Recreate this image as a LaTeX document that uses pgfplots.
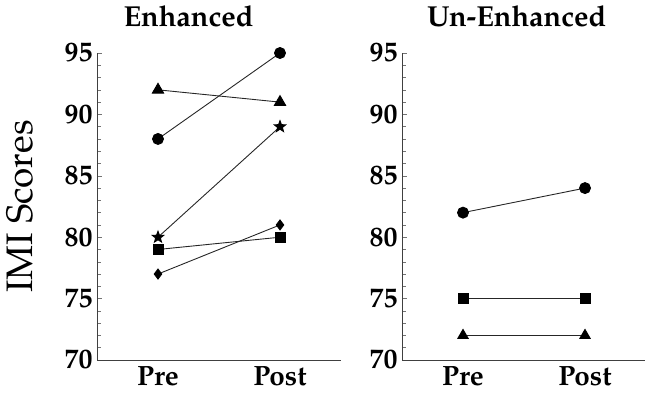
\documentclass[border=0pt]{standalone}
\usepackage{fontspec}
\setmainfont{TeX Gyre Pagella}
\usepackage{pgfplots}
\pgfplotsset{compat=1.18}
\pgfdeclareplotmark{fstar}{%
  \pgfpathmoveto{\pgfpointpolar{90}{\pgfplotmarksize}}%
  \pgfpathlineto{\pgfpointpolar{126}{0.42\pgfplotmarksize}}%
  \pgfpathlineto{\pgfpointpolar{162}{\pgfplotmarksize}}%
  \pgfpathlineto{\pgfpointpolar{198}{0.42\pgfplotmarksize}}%
  \pgfpathlineto{\pgfpointpolar{234}{\pgfplotmarksize}}%
  \pgfpathlineto{\pgfpointpolar{270}{0.42\pgfplotmarksize}}%
  \pgfpathlineto{\pgfpointpolar{306}{\pgfplotmarksize}}%
  \pgfpathlineto{\pgfpointpolar{342}{0.42\pgfplotmarksize}}%
  \pgfpathlineto{\pgfpointpolar{18}{\pgfplotmarksize}}%
  \pgfpathlineto{\pgfpointpolar{54}{0.42\pgfplotmarksize}}%
  \pgfpathclose
  \pgfusepathqfillstroke}
\pgfplotsset{
  imi/.style={
    scale only axis,
    width=244bp, height=307bp,
    xmin=-0.5, xmax=1.5, ymin=70, ymax=95,
    axis x line=bottom, axis y line=left,
    axis line style={-, black!75, line width=0.8pt},
    xtick={0,1}, xticklabels={Pre,Post},
    major x tick style={draw=none},
    ytick={70,75,...,95}, minor y tick num=4,
    tick align=inside,
    major tick length=5bp, minor tick length=4bp,
    y tick style={black!55, line width=0.5pt},
    /pgf/number format/assume math mode=true,
    tick label style={font=\fontsize{28}{28}\selectfont\bfseries},
    yticklabel style={xshift=-1bp},
    xticklabel style={yshift=-3bp},
    clip=false,
  },
  ln/.style={black!85, line width=0.9pt, mark options={solid, fill=black, draw=black}},
}
\begin{document}
\begin{tikzpicture}[x=1bp,y=1bp]
\path[use as bounding box] (0,0) rectangle (645,395);
\begin{axis}[imi, at={(97bp,35bp)}, anchor=south west]
\addplot[ln, mark=*, mark size=5.5bp] coordinates {(0,88) (1,95)};
\addplot[ln, mark=triangle*, mark size=6.5bp] coordinates {(0,92) (1,91)};
\addplot[ln, mark=fstar, mark size=6bp] coordinates {(0,80) (1,89)};
\addplot[ln, mark=square*, mark size=5bp] coordinates {(0,79) (1,80)};
\addplot[ln, mark=diamond*, mark size=5bp] coordinates {(0,77) (1,81)};
\node[font=\fontsize{29}{29}\selectfont\bfseries] at (rel axis cs:0.375,1.12) {Enhanced};
\node[font=\fontsize{37}{37}\selectfont, rotate=90] at (rel axis cs:0,0.5) [yshift=77bp] {IMI Scores};
\end{axis}
\begin{axis}[imi, at={(402bp,35bp)}, anchor=south west]
\addplot[ln, mark=*, mark size=5.5bp] coordinates {(0,82) (1,84)};
\addplot[ln, mark=square*, mark size=5bp] coordinates {(0,75) (1,75)};
\addplot[ln, mark=triangle*, mark size=6bp] coordinates {(0,72) (1,72)};
\node[font=\fontsize{29}{29}\selectfont\bfseries] at (rel axis cs:0.47,1.12) {Un-Enhanced};
\end{axis}
\end{tikzpicture}
\end{document}
